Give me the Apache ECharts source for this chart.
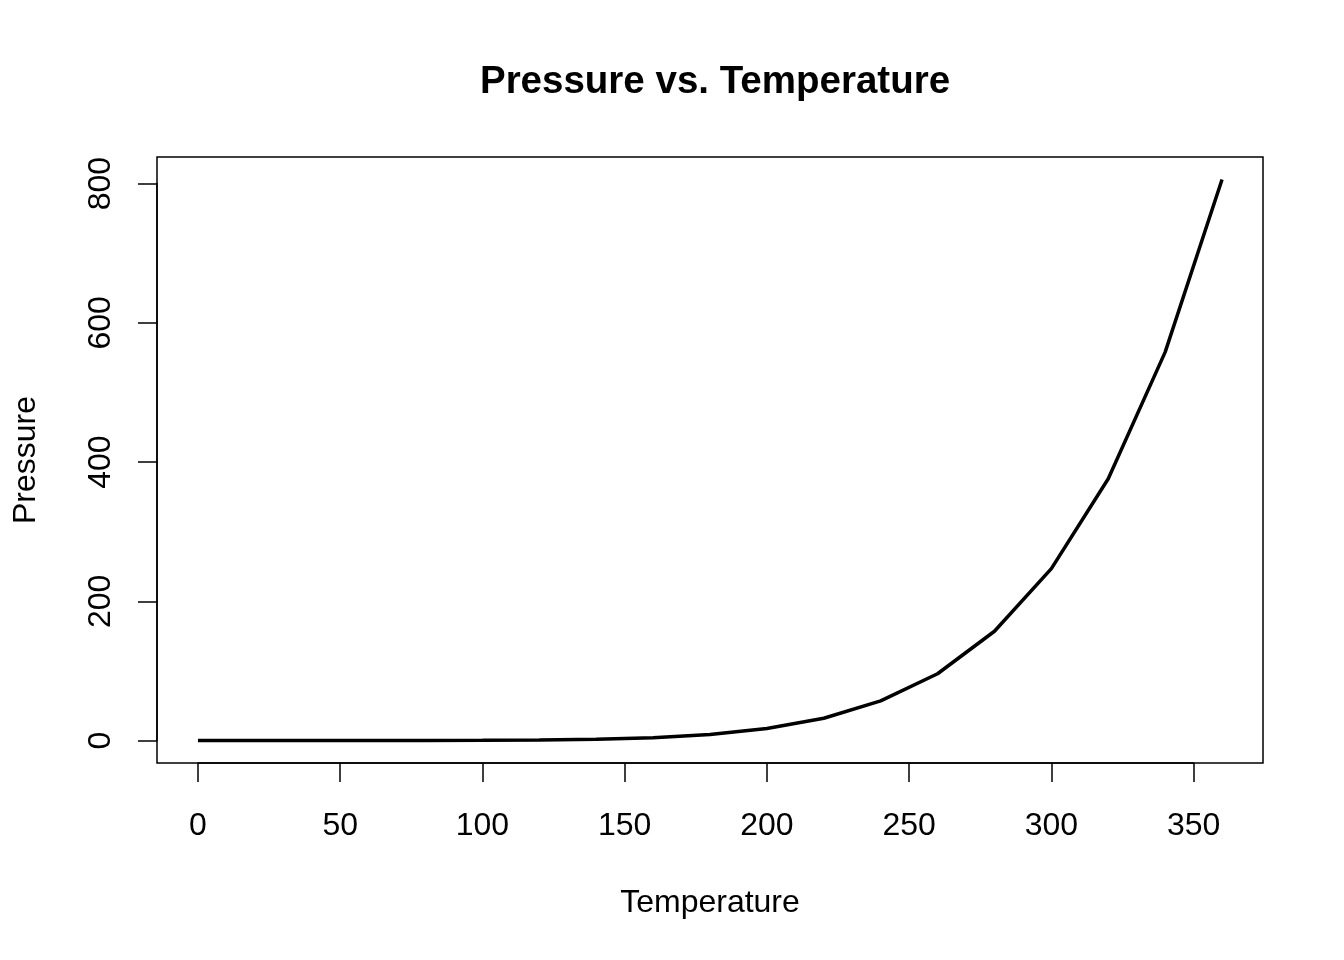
<!DOCTYPE html>
<html>
<head>
<meta charset="utf-8">
<script src="https://cdn.jsdelivr.net/npm/echarts@6/dist/echarts.min.js"></script>
<style>
  html, body { margin: 0; padding: 0; background: #fff; }
  #chart { width: 1344px; height: 960px; }
</style>
</head>
<body>
<div id="chart"></div>
<script>
// pressure data set: temperature (deg C) vs pressure (mm Hg)
var temperature = [0, 20, 40, 60, 80, 100, 120, 140, 160, 180, 200, 220, 240, 260, 280, 300, 320, 340, 360];
var pressure = [0.0002, 0.0012, 0.006, 0.03, 0.09, 0.27, 0.75, 1.85, 4.2, 8.8, 17.3, 32.1, 57, 96, 157, 247, 376, 558, 806];
var xTicks = [0, 350, 50];   // min, max, step
var yTicks = [0, 800, 200];

var FONT = '"Liberation Sans", Arial, sans-serif';

// R pads the data range by 4% on each side
function padded(arr) {
  var lo = Math.min.apply(null, arr), hi = Math.max.apply(null, arr);
  var d = (hi - lo) * 0.04;
  return [lo - d, hi + d];
}
var xr = padded(temperature);
var yr = padded(pressure);

var points = temperature.map(function(t, i) { return [t, pressure[i]]; });

var chart = echarts.init(document.getElementById('chart'), null, { renderer: 'canvas' });

var BOX = { left: 157, top: 157, width: 1106, height: 606 };
// tick axes only span the tick range, like R's axis()
var xScale = BOX.width / (xr[1] - xr[0]);
var yScale = BOX.height / (yr[1] - yr[0]);
var xSpan = {
  left: BOX.left + (xTicks[0] - xr[0]) * xScale,
  width: (xTicks[1] - xTicks[0]) * xScale
};
var ySpan = {
  top: BOX.top + (yr[1] - yTicks[1]) * yScale,
  height: (yTicks[1] - yTicks[0]) * yScale
};

var hidden = {
  axisLine: { show: false }, axisTick: { show: false },
  axisLabel: { show: false }, splitLine: { show: false }
};
var tickLine = {
  axisLine: { show: true, onZero: false, lineStyle: { color: '#000', width: 1.5 } },
  axisTick: { show: true, inside: false, length: 19, lineStyle: { color: '#000', width: 1.5 } },
  splitLine: { show: false }
};

// merge shared axis styling into an axis definition
function withStyle(axis, extra) {
  for (var k in extra) {
    if (!(k in axis)) axis[k] = extra[k];
  }
  return axis;
}

var option = {
  backgroundColor: '#ffffff',
  animation: false,
  title: {
    text: 'Pressure vs. Temperature',
    left: BOX.left + BOX.width / 2,
    textAlign: 'center',
    top: 58,
    textStyle: { fontFamily: FONT, fontSize: 38.5, fontWeight: 'bold', color: '#000' }
  },
  grid: [
    // plot box
    { left: BOX.left, top: BOX.top, width: BOX.width, height: BOX.height,
      containLabel: false, outerBoundsMode: 'none',
      show: true, borderColor: '#000', borderWidth: 1.5, backgroundColor: 'transparent' },
    // x ticks
    { left: xSpan.left, width: xSpan.width, top: BOX.top, height: BOX.height,
      containLabel: false, outerBoundsMode: 'none' },
    // y ticks
    { left: BOX.left, width: BOX.width, top: ySpan.top, height: ySpan.height,
      containLabel: false, outerBoundsMode: 'none' }
  ],
  xAxis: [
    withStyle({ gridIndex: 0, type: 'value', min: xr[0], max: xr[1],
      name: 'Temperature', nameLocation: 'middle', nameGap: 124,
      nameTextStyle: { fontFamily: FONT, fontSize: 32, color: '#000' } }, hidden),
    withStyle({ gridIndex: 1, type: 'value', min: xTicks[0], max: xTicks[1], interval: xTicks[2],
      position: 'bottom',
      axisLabel: { margin: 47, color: '#000', fontFamily: FONT, fontSize: 32 } }, tickLine),
    withStyle({ gridIndex: 2, type: 'value', min: 0, max: 1 }, hidden)
  ],
  yAxis: [
    withStyle({ gridIndex: 0, type: 'value', min: yr[0], max: yr[1],
      name: 'Pressure', nameLocation: 'middle', nameGap: 115, nameRotate: 90,
      nameTextStyle: { fontFamily: FONT, fontSize: 32, color: '#000' } }, hidden),
    withStyle({ gridIndex: 1, type: 'value', min: 0, max: 1 }, hidden),
    withStyle({ gridIndex: 2, type: 'value', min: yTicks[0], max: yTicks[1], interval: yTicks[2],
      position: 'left',
      axisLabel: { margin: 40, rotate: 90, color: '#000', fontFamily: FONT, fontSize: 32 } }, tickLine)
  ],
  series: [
    {
      type: 'line',
      xAxisIndex: 0, yAxisIndex: 0,
      data: points,
      symbol: 'none',
      lineStyle: { color: '#000', width: 3.5 }
    }
  ]
};

chart.setOption(option);
</script>
</body>
</html>
